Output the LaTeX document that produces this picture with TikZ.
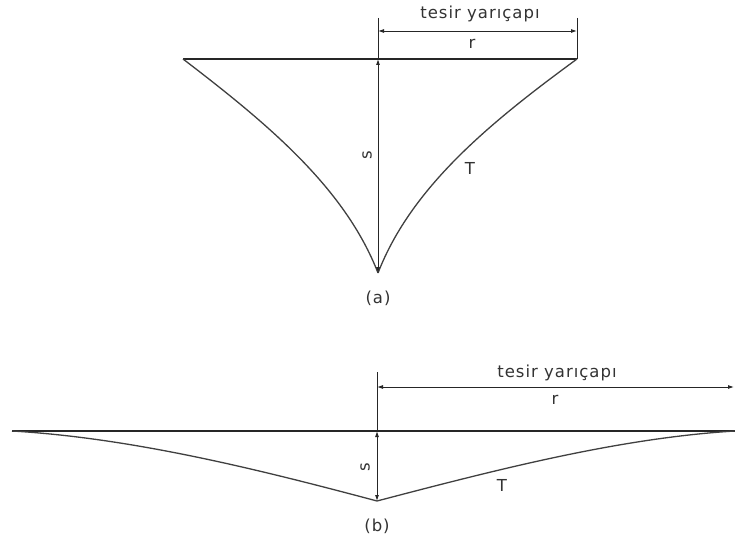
\documentclass[tikz,border=0pt]{standalone}
\usepackage{fontspec}
\setmainfont{DejaVu Sans}
\newfontfamily\spaced[LetterSpace=6]{DejaVu Sans}
\usetikzlibrary{arrows.meta}
\begin{document}
\begin{tikzpicture}[x=1pt,y=-1pt,
  lbl/.style={font=\spaced\fontsize{16.5}{16.5}\selectfont, inner sep=0pt, text=black!80},
  mainline/.style={line width=1.4pt, draw=black!85},
  curveline/.style={line width=1.3pt, draw=black!75},
  dimline/.style={line width=0.9pt, draw=black!85, {Latex[length=6pt,width=4pt]}-{Latex[length=6pt,width=4pt]}},
  extline/.style={line width=0.9pt, draw=black!85}]
\useasboundingbox (0,0) rectangle (735,537);
\fill[white] (0,0) rectangle (735,537);
% ---------- (a) ----------
\coordinate (aL) at (183,59);
\coordinate (aR) at (577,59);
\coordinate (aC) at (378,59);
\coordinate (aA) at (378,273);
\coordinate (aE1) at (378,18);
\coordinate (aE2) at (577,18);
\coordinate (aD1) at (378,31);
\coordinate (aD2) at (577,31);
\draw[mainline] (aL) -- (aR);
\draw[curveline] (aL) .. controls (268,124) and (345,188) .. (aA);
\draw[curveline] (aR) .. controls (488,124) and (411,188) .. (aA);
\draw[extline] (aE1) -- (aC);
\draw[extline] (aE2) -- (aR);
\draw[dimline] (aD1) -- (aD2);
\draw[dimline] (aA) -- (aC);
\node[lbl] (aT1) at (480,14) {tesir yarıçapı};
\node[lbl] (ar) at (472,44) {r};
\node[lbl, rotate=90] (as) at (367,155) {s};
\node[lbl] (aTT) at (470,168) {T};
\node[lbl] (acap) at (378,298) {(a)};
% ---------- (b) ----------
\coordinate (bL) at (12,431);
\coordinate (bR) at (735,431);
\coordinate (bC) at (377,431);
\coordinate (bA) at (377,501);
\coordinate (bE1) at (377,372);
\coordinate (bD1) at (377,387);
\coordinate (bD2) at (734,387);
\draw[mainline] (bL) -- (bR);
\draw[curveline] (bL) .. controls (132,438) and (257,469) .. (bA);
\draw[curveline] (bA) .. controls (499,469) and (620,438) .. (bR);
\draw[extline] (bE1) -- (bC);
\draw[dimline] (bD1) -- (bD2);
\draw[dimline] (bA) -- (bC);
\node[lbl] (bT1) at (557,373) {tesir yarıçapı};
\node[lbl] (br) at (555,400) {r};
\node[lbl, rotate=90] (bs) at (365,467) {s};
\node[lbl] (bTT) at (502,485) {T};
\node[lbl] (bcap) at (377,526) {(b)};
\end{tikzpicture}
\end{document}
